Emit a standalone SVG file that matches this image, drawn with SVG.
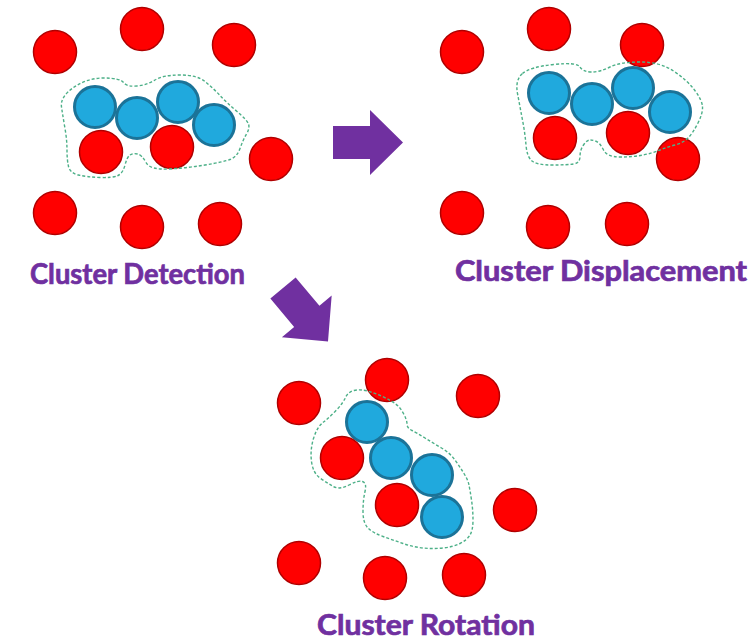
<svg xmlns="http://www.w3.org/2000/svg" width="756" height="643" viewBox="0 0 756 643">
<style>
.r{fill:#FF0000;stroke:#B00000;stroke-width:1.5}
.b{fill:#20A9DD;stroke:#1B7398;stroke-width:3}
.o{fill:none;stroke:#4DB088;stroke-width:1.4;stroke-dasharray:3 2}
.t{font-family:Lato,"Open Sans","Liberation Sans",sans-serif;font-weight:bold;font-size:28px;fill:#7030A0;stroke:#7030A0;stroke-width:0.7}
.a{fill:#7030A0}
</style>
<defs>
<path id="arr" d="M0,-16.5 H37 V-32.5 L70,0 L37,32.5 V16.5 H0 Z"/>
</defs>
<rect width="756" height="643" fill="#fff"/>
<g id="detection">
<circle class="r" cx="55" cy="52" r="21.5"/>
<circle class="r" cx="142" cy="29" r="21.5"/>
<circle class="r" cx="234" cy="45" r="21.5"/>
<circle class="b" cx="95" cy="107" r="20.5"/>
<circle class="b" cx="137" cy="118" r="20.5"/>
<circle class="b" cx="178" cy="102" r="20.5"/>
<circle class="b" cx="214" cy="125" r="20.5"/>
<circle class="r" cx="101" cy="152" r="21.5"/>
<circle class="r" cx="172" cy="147" r="21.5"/>
<circle class="r" cx="271" cy="159" r="21.5"/>
<circle class="r" cx="55" cy="213" r="21.5"/>
<circle class="r" cx="142" cy="227" r="21.5"/>
<circle class="r" cx="220" cy="224" r="21.5"/>
<path class="o" d="M73.5,87.5 Q87,78 103.5,78 Q120,78 123.5,82.5 Q127,87 137,86 Q147,85 155,80 Q163,75 180,75 Q197,75 205,81.5 Q213,88 220,95.5 Q227,103 237,111.5 Q247,120 248.5,124 Q250,128 246.5,134 Q243,140 240,148.5 Q237,157 230,159.5 Q223,162 205,165 Q187,168 168.5,169 Q150,170 146,162.5 Q142,155 137.5,154 Q133,153 130,155 Q127,157 125,165 Q123,173 118,175.5 Q113,178 100,177.5 Q87,177 78.5,175 Q70,173 68.5,166.5 Q67,160 67,150 Q67,140 65,128.5 Q63,117 61.5,107 Q60,97 73.5,87.5 Z"/>
<text class="t" x="30" y="284" textLength="215" lengthAdjust="spacingAndGlyphs">Cluster Detection</text>
</g>
<g id="displacement">
<circle class="r" cx="462" cy="52" r="21.5"/>
<circle class="r" cx="549" cy="29" r="21.5"/>
<circle class="r" cx="642" cy="45" r="21.5"/>
<circle class="b" cx="549" cy="93" r="20.5"/>
<circle class="b" cx="592" cy="104" r="20.5"/>
<circle class="b" cx="633" cy="88" r="20.5"/>
<circle class="b" cx="670" cy="112" r="20.5"/>
<circle class="r" cx="555" cy="138" r="21.5"/>
<circle class="r" cx="628" cy="133" r="21.5"/>
<circle class="r" cx="678" cy="159" r="21.5"/>
<circle class="r" cx="462" cy="213" r="21.5"/>
<circle class="r" cx="548" cy="227" r="21.5"/>
<circle class="r" cx="627" cy="224" r="21.5"/>
<path class="o" d="M522.5,73.5 Q530,67 553.5,64.5 Q577,62 580,67 Q583,72 591.5,72 Q600,72 610,67 Q620,62 640,62 Q660,62 673.5,71 Q687,80 694.5,90 Q702,100 702.5,106.5 Q703,113 698,123 Q693,133 688,138 Q683,143 675,145 Q667,147 660,150 Q653,153 643,155 Q633,157 620,157 Q607,157 603.5,150 Q600,143 596.5,141.5 Q593,140 590,140 Q587,140 583.5,145 Q580,150 580,156.5 Q580,163 573.5,164 Q567,165 552,165 Q537,165 532,161 Q527,157 526,145 Q525,133 522.5,120 Q520,107 517.5,93.5 Q515,80 522.5,73.5 Z"/>
<text class="t" x="455" y="281" textLength="292" lengthAdjust="spacingAndGlyphs">Cluster Displacement</text>
</g>
<g id="rotation">
<circle class="r" cx="299" cy="403" r="21.5"/>
<circle class="r" cx="387" cy="380" r="21.5"/>
<circle class="r" cx="478" cy="396" r="21.5"/>
<circle class="b" cx="367" cy="422" r="20.5"/>
<circle class="r" cx="342" cy="458" r="21.5"/>
<circle class="b" cx="391" cy="458" r="20.5"/>
<circle class="b" cx="432" cy="475" r="20.5"/>
<circle class="r" cx="397" cy="505" r="21.5"/>
<circle class="b" cx="442" cy="517" r="20.5"/>
<circle class="r" cx="515" cy="510" r="21.5"/>
<circle class="r" cx="299" cy="563" r="21.5"/>
<circle class="r" cx="385" cy="578" r="21.5"/>
<circle class="r" cx="464" cy="575" r="21.5"/>
<path class="o" d="M354,390.5 Q360,389 367.5,391 Q375,393 382.5,396.5 Q390,400 395,403.5 Q400,407 403.5,413.5 Q407,420 407,424 Q407,428 412,430.5 Q417,433 425,438 Q433,443 441.5,448 Q450,453 455,460 Q460,467 464,473.5 Q468,480 469,485 Q470,490 471.5,500 Q473,510 473,520 Q473,530 470,535 Q467,540 460,543.5 Q453,547 443,548 Q433,549 423,548 Q413,547 403,543.5 Q393,540 383,536.5 Q373,533 368,528 Q363,523 363,511.5 Q363,500 365,491.5 Q367,483 362.5,481.5 Q358,480 349,485 Q340,490 333.5,486.5 Q327,483 320,478 Q313,473 311.5,461.5 Q310,450 313.5,438.5 Q317,427 323.5,422 Q330,417 336.5,410 Q343,403 345.5,397.5 Q348,392 354,390.5 Z"/>
<text class="t" x="317" y="635" textLength="218" lengthAdjust="spacingAndGlyphs">Cluster Rotation</text>
</g>
<g id="connectors">
<use href="#arr" class="a" transform="translate(333,142.5)"/>
<use href="#arr" class="a" transform="translate(283,288) rotate(50)"/>
</g>
</svg>
